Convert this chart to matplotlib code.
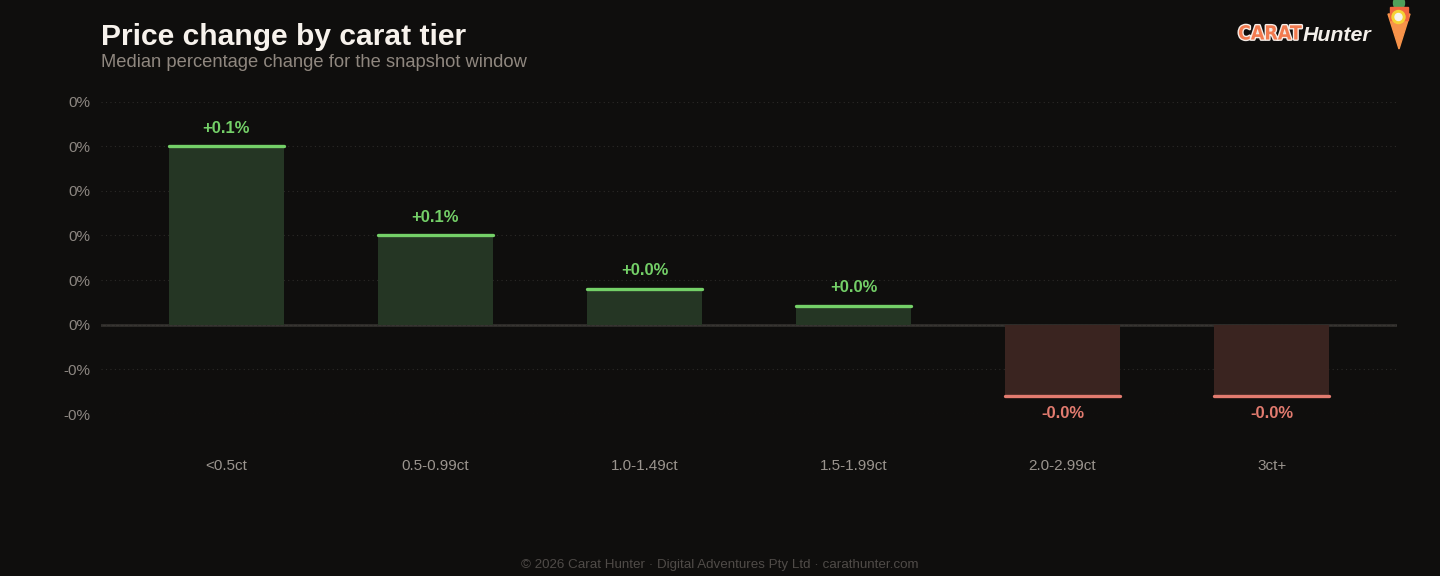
import matplotlib
matplotlib.use("Agg")
import matplotlib.pyplot as plt
from matplotlib.patches import Polygon, Circle, Ellipse
from matplotlib.ticker import FuncFormatter
import matplotlib.patheffects as pe

plt.rcParams['font.family'] = ['Liberation Sans', 'DejaVu Sans']

# Data (median % change)
tiers = ["<0.5ct", "0.5-0.99ct", "1.0-1.49ct", "1.5-1.99ct", "2.0-2.99ct", "3ct+"]
changes = [0.100, 0.0502, 0.0202, 0.0106, -0.0398, -0.0398]
y_ticks = [-0.05, -0.025, 0.0, 0.025, 0.05, 0.075, 0.1, 0.125]

BG = "#0f0e0d"
POS_FILL, POS_LINE = "#253624", "#74d068"
NEG_FILL, NEG_LINE = "#3a2420", "#e27b6f"

fig = plt.figure(figsize=(14.4, 5.76), dpi=100, facecolor=BG)
ax = fig.add_axes([101/1440, 162/576, 1296/1440, 312.5/576])
ax.set_facecolor(BG)

x = list(range(len(tiers)))
fills = [POS_FILL if v >= 0 else NEG_FILL for v in changes]
lines = [POS_LINE if v >= 0 else NEG_LINE for v in changes]
ax.bar(x, changes, width=0.55, color=fills, zorder=2)
for xi, v, c in zip(x, changes, lines):
    ax.plot([xi - 0.275, xi + 0.275], [v, v], color=c, lw=2.4,
            solid_capstyle="round", zorder=3)
    if v >= 0:
        ax.annotate(f"+{v:.1f}%", (xi, v), xytext=(0, 7.5), textcoords="offset points",
                    ha="center", va="bottom", color=c, fontsize=12, fontweight="bold")
    else:
        ax.annotate(f"-{abs(v):.1f}%", (xi, v), xytext=(0, -7.5), textcoords="offset points",
                    ha="center", va="top", color=c, fontsize=12, fontweight="bold")

ax.set_xlim(-0.6, 5.6)
ax.set_ylim(-0.05, 0.125)
ax.set_yticks(y_ticks)
ax.yaxis.set_major_formatter(FuncFormatter(lambda v, p: f"{v:.0f}%" if v >= 0 or abs(v) < 1e-9 else f"-{abs(v):.0f}%"))
ax.grid(axis="y", color="#2c2a28", linestyle=(0, (1, 3)), lw=0.8, zorder=0)
ax.axhline(0, color="#383532", lw=1.8, zorder=1)
ax.set_xticks(x)
ax.set_xticklabels(tiers)
ax.tick_params(axis="x", length=0, pad=32.5, labelsize=11, labelcolor="#9a948e")
ax.tick_params(axis="y", length=0, pad=8, labelsize=11, labelcolor="#8d8782")
for s in ax.spines.values():
    s.set_visible(False)

fig.text(101/1440, 1 - 37/576, "Price change by carat tier", fontsize=21.6, fontweight="bold",
         color="#f7f2ec", va="center", ha="left")
fig.text(101/1440, 1 - 62.5/576, "Median percentage change for the snapshot window", fontsize=13.25,
         color="#8f877f", va="center", ha="left")
fig.text(0.5, 1 - 565/576, "\u00a9 2026 Carat Hunter \u00b7 Digital Adventures Pty Ltd \u00b7 carathunter.com",
         fontsize=9.6, color="#4f4b48", ha="center", va="center")

# logo
fig.text(1238/1440, 1 - 34/576, "CARAT", fontsize=14, family="DejaVu Sans",
         fontstretch="condensed", fontweight="bold", color="#f27a4f",
         ha="left", va="center",
         path_effects=[pe.withStroke(linewidth=2, foreground="#f5ece6")])
fig.text(1303/1440, 1 - 35.5/576, "Hunter", fontsize=15.4, fontweight="bold", fontstyle="italic",
         color="#f3efea", ha="left", va="center")
lax = fig.add_axes([1380/1440, 1 - 52/576, 36/1440, 52/576])
lax.set_xlim(0, 36)
lax.set_ylim(52, 0)
lax.axis("off")
lax.add_patch(Polygon([[8, 14], [30, 14], [19, 49]], closed=True, color="#f7934a"))
lax.add_patch(Ellipse((19, 3), 11, 14, color="#4fa05a"))
lax.add_patch(Polygon([[10, 7], [28, 7], [28, 20], [10, 20]], closed=True, color="#f2683f"))
lax.add_patch(Circle((18.5, 17), 6.5, color="#f5d336"))
lax.add_patch(Circle((18.5, 17), 3.5, color="#f7f3ee"))

fig.savefig("out.png", dpi=100, facecolor=BG)
